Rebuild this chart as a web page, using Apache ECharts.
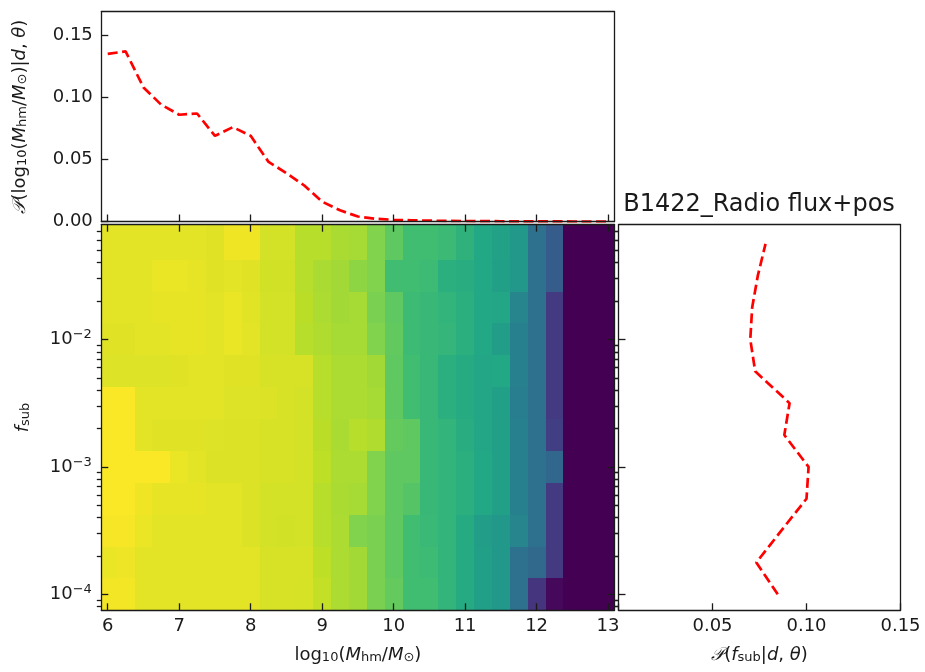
<!DOCTYPE html>
<html>
<head>
<meta charset="utf-8">
<script src="https://cdn.jsdelivr.net/npm/echarts@6/dist/echarts.min.js"></script>
<style>
  html, body { margin: 0; padding: 0; background: #ffffff; }
  #chart { width: 925px; height: 672px; }
</style>
</head>
<body>
<div id="chart"></div>
<script>
// Bin centres: half-mode mass (log10 M_hm/M_sun) and subhalo fraction (log10 f_sub)
const massCenters = [6.00, 6.25, 6.50, 6.75, 7.00, 7.25, 7.50, 7.75, 8.00, 8.25,
                     8.50, 8.75, 9.00, 9.25, 9.50, 9.75, 10.00, 10.25, 10.50, 10.75,
                     11.00, 11.25, 11.50, 11.75, 12.00, 12.25, 12.50, 12.75, 13.00];
const fsubLogCenters = [-4.00, -3.75, -3.50, -3.25, -3.00, -2.75, -2.50, -2.25,
                        -2.00, -1.75, -1.50, -1.25];

// Marginal posteriors
const massMarginal = [0.135, 0.137, 0.108, 0.094, 0.086, 0.087, 0.069, 0.076, 0.069, 0.048,
                      0.039, 0.029, 0.016, 0.009, 0.004, 0.0022, 0.0014, 0.0010, 0.0007, 0.0005,
                      0.0004, 0.0003, 0.0002, 0.0001, 0.0001, 0.0001, 0.0, 0.0, 0.0];
const fsubMarginal = [0.0847, 0.0733, 0.0866, 0.1000, 0.1011, 0.0882,
                      0.0910, 0.0727, 0.0701, 0.0711, 0.0741, 0.0782];

// Joint posterior, normalised log density; one row per f_sub bin (lowest f_sub first)
const density = [
  [0.985, 0.985, 0.960, 0.958, 0.958, 0.958, 0.958, 0.960, 0.960, 0.940, 0.940, 0.937, 0.910, 0.875, 0.860, 0.800, 0.760, 0.690, 0.690, 0.650, 0.610, 0.560, 0.530, 0.370, 0.150, 0.020, 0, 0, 0],
  [0.970, 0.975, 0.960, 0.960, 0.958, 0.958, 0.958, 0.960, 0.960, 0.940, 0.940, 0.940, 0.900, 0.875, 0.860, 0.800, 0.750, 0.690, 0.680, 0.650, 0.610, 0.560, 0.530, 0.370, 0.340, 0.170, 0, 0, 0],
  [0.990, 0.990, 0.970, 0.958, 0.958, 0.958, 0.958, 0.960, 0.948, 0.935, 0.930, 0.935, 0.890, 0.875, 0.810, 0.800, 0.750, 0.690, 0.670, 0.650, 0.610, 0.550, 0.530, 0.450, 0.370, 0.170, 0, 0, 0],
  [0.995, 0.995, 0.980, 0.965, 0.965, 0.965, 0.960, 0.960, 0.948, 0.935, 0.935, 0.935, 0.890, 0.870, 0.865, 0.810, 0.750, 0.730, 0.665, 0.650, 0.630, 0.600, 0.560, 0.430, 0.370, 0.170, 0, 0, 0],
  [0.995, 0.995, 0.995, 0.995, 0.970, 0.960, 0.948, 0.948, 0.948, 0.940, 0.940, 0.935, 0.900, 0.875, 0.875, 0.810, 0.750, 0.750, 0.665, 0.650, 0.630, 0.600, 0.560, 0.430, 0.370, 0.330, 0, 0, 0],
  [0.995, 0.995, 0.960, 0.955, 0.955, 0.955, 0.950, 0.948, 0.948, 0.940, 0.940, 0.935, 0.895, 0.870, 0.890, 0.880, 0.760, 0.750, 0.665, 0.650, 0.620, 0.590, 0.560, 0.430, 0.370, 0.180, 0, 0, 0],
  [0.995, 0.995, 0.960, 0.960, 0.960, 0.960, 0.960, 0.950, 0.950, 0.948, 0.940, 0.935, 0.890, 0.875, 0.875, 0.865, 0.750, 0.690, 0.665, 0.630, 0.610, 0.590, 0.560, 0.420, 0.370, 0.170, 0, 0, 0],
  [0.950, 0.950, 0.950, 0.950, 0.955, 0.960, 0.960, 0.955, 0.955, 0.940, 0.940, 0.940, 0.890, 0.875, 0.875, 0.860, 0.750, 0.690, 0.665, 0.630, 0.610, 0.590, 0.600, 0.430, 0.370, 0.170, 0, 0, 0],
  [0.955, 0.955, 0.958, 0.958, 0.965, 0.965, 0.958, 0.970, 0.958, 0.935, 0.935, 0.890, 0.880, 0.865, 0.865, 0.810, 0.755, 0.680, 0.665, 0.655, 0.630, 0.600, 0.550, 0.430, 0.370, 0.170, 0, 0, 0],
  [0.958, 0.960, 0.960, 0.965, 0.965, 0.965, 0.958, 0.970, 0.957, 0.935, 0.935, 0.895, 0.875, 0.860, 0.865, 0.800, 0.750, 0.680, 0.665, 0.650, 0.630, 0.600, 0.590, 0.450, 0.370, 0.170, 0, 0, 0],
  [0.960, 0.960, 0.960, 0.970, 0.970, 0.965, 0.955, 0.960, 0.955, 0.930, 0.930, 0.890, 0.870, 0.860, 0.830, 0.810, 0.690, 0.690, 0.680, 0.630, 0.620, 0.600, 0.560, 0.530, 0.370, 0.290, 0, 0, 0],
  [0.960, 0.960, 0.960, 0.960, 0.960, 0.960, 0.955, 0.980, 0.980, 0.935, 0.935, 0.890, 0.890, 0.870, 0.865, 0.810, 0.750, 0.690, 0.690, 0.675, 0.640, 0.600, 0.570, 0.530, 0.370, 0.290, 0, 0, 0]
];

// Tick positions
const massTicks = [6, 7, 8, 9, 10, 11, 12, 13];
const fsubDecades = [-4, -3, -2];
const massProbTicks = [0, 0.05, 0.10, 0.15];
const fsubProbTicks = [0, 0.05, 0.10, 0.15];
const fsubProbLabels = [0.05, 0.10, 0.15];

// Axis limits
const massRange = [5.91, 13.09];
const fsubLogRange = [-4.125, -1.10];
const massProbRange = [0, 0.169];
const fsubProbRange = [0, 0.15];

const FONT = 'DejaVu Sans';
const INK = '#1a1a1a';
const VIRIDIS = ['#440154', '#482475', '#414487', '#355f8d', '#2a788e', '#21918c',
                 '#22a884', '#44bf70', '#7ad151', '#bddf26', '#fde725'];

// Cell edges: midpoints between centres, outer cells run to the frame
function edgesFrom(centers, range) {
  const e = [range[0]];
  for (let k = 1; k < centers.length; k++) e.push((centers[k - 1] + centers[k]) / 2);
  e.push(range[1]);
  return e;
}
const massEdges = edgesFrom(massCenters, massRange);
const fsubEdges = edgesFrom(fsubLogCenters, fsubLogRange);

// Minor log ticks (2..9 x 10^n) inside the f_sub range
const fsubMinor = [];
for (let n = -5; n <= -1; n++) {
  for (let k = 2; k <= 9; k++) {
    const v = n + Math.log10(k);
    if (v > fsubLogRange[0] && v < fsubLogRange[1]) fsubMinor.push(v);
  }
}

const heatData = [];
density.forEach((row, j) => {
  row.forEach((v, i) => heatData.push([massCenters[i], fsubLogCenters[j], v, i, j]));
});

const massLine = massCenters.map((m, i) => [m, massMarginal[i]]);
const fsubLine = fsubLogCenters.map((f, j) => [fsubMarginal[j], f]);

const nameRich = {
  n: { fontFamily: FONT, fontSize: 18, color: INK, padding: [0, 0, 4, 0] },
  i: { fontFamily: FONT, fontSize: 18, fontStyle: 'italic', color: INK, padding: [0, 0, 4, 0] },
  s: { fontFamily: FONT, fontSize: 13, color: INK }
};
const powRich = {
  b: { fontFamily: FONT, fontSize: 18, color: INK },
  p: { fontFamily: FONT, fontSize: 13, color: INK, padding: [0, 0, 9, 0] }
};

function makeAxis(o) {
  const ax = {
    type: 'value',
    gridIndex: o.grid,
    position: o.pos,
    min: o.range[0],
    max: o.range[1],
    z: 10,
    axisLine: { show: !!o.line, onZero: false, lineStyle: { color: INK, width: 1.3 } },
    axisTick: o.ticks
      ? { show: true, inside: !o.outside, length: o.len || 7, customValues: o.ticks,
          lineStyle: { color: INK, width: 1.3 } }
      : { show: false },
    axisLabel: o.labels
      ? { show: true, customValues: o.labels, formatter: o.fmt, margin: o.margin,
          fontFamily: FONT, fontSize: 18, color: INK, rich: o.rich || {} }
      : { show: false },
    splitLine: { show: false }
  };
  if (o.name) {
    ax.name = o.name;
    ax.nameLocation = 'middle';
    ax.nameGap = o.gap;
    ax.nameRotate = o.rot || 0;
    ax.nameTextStyle = { fontFamily: FONT, fontSize: 18, color: INK, rich: nameRich };
  }
  return ax;
}

const xAxes = [
  // top marginal panel
  makeAxis({ grid: 0, pos: 'bottom', range: massRange, line: true, ticks: massTicks }),
  makeAxis({ grid: 0, pos: 'top', range: massRange, line: true }),
  // joint panel
  makeAxis({ grid: 1, pos: 'bottom', range: massRange, line: true, ticks: massTicks,
             labels: massTicks, fmt: v => String(Math.round(v)), margin: 7,
             name: '{n|log}{s|10}{n|(}{i|M}{s|hm}{n|/}{i|M}{s|⊙}{n|)}', gap: 36 }),
  makeAxis({ grid: 1, pos: 'top', range: massRange, line: true, ticks: massTicks }),
  // side marginal panel
  makeAxis({ grid: 2, pos: 'bottom', range: fsubProbRange, line: true, ticks: fsubProbTicks,
             labels: fsubProbLabels, fmt: v => v.toFixed(2), margin: 7,
             name: '{i|𝒫}{n|(}{i|f}{s|sub}{n||}{i|d}{n|, }{i|θ}{n|)}', gap: 36 }),
  makeAxis({ grid: 2, pos: 'top', range: fsubProbRange, line: true })
];

const yAxes = [
  // top marginal panel
  makeAxis({ grid: 0, pos: 'left', range: massProbRange, line: true, ticks: massProbTicks,
             labels: massProbTicks, fmt: v => v.toFixed(2), margin: 8.5,
             name: '{i|𝒫}{n|(log}{s|10}{n|(}{i|M}{s|hm}{n|/}{i|M}{s|⊙}{n|)|}{i|d}{n|, }{i|θ}{n|)}',
             gap: 68, rot: 90 }),
  makeAxis({ grid: 0, pos: 'right', range: massProbRange, line: true }),
  // joint panel, left: major (in) and minor (out)
  makeAxis({ grid: 1, pos: 'left', range: fsubLogRange, line: true, ticks: fsubDecades,
             labels: fsubDecades, fmt: v => '{b|10}{p|−' + Math.round(-v) + '}', rich: powRich,
             margin: 9.5, name: '{i|f}{s|sub}', gap: 65, rot: 90 }),
  makeAxis({ grid: 1, pos: 'left', range: fsubLogRange, ticks: fsubMinor, outside: true, len: 4.5 }),
  // joint panel, right
  makeAxis({ grid: 1, pos: 'right', range: fsubLogRange, line: true, ticks: fsubDecades }),
  makeAxis({ grid: 1, pos: 'right', range: fsubLogRange, ticks: fsubMinor, outside: true, len: 4.5 }),
  // side marginal panel
  makeAxis({ grid: 2, pos: 'left', range: fsubLogRange, line: true, ticks: fsubDecades }),
  makeAxis({ grid: 2, pos: 'left', range: fsubLogRange, ticks: fsubMinor, outside: true, len: 4.5 }),
  makeAxis({ grid: 2, pos: 'right', range: fsubLogRange, line: true })
];

const dashed = { color: '#ff0000', width: 2.7, type: [10, 4.5] };

const option = {
  animation: false,
  backgroundColor: '#ffffff',
  grid: [
    { left: 101.3, top: 11.7, width: 513.2, height: 209.8, outerBoundsMode: 'none', containLabel: false },
    { left: 101.3, top: 224.7, width: 513.2, height: 385.6, outerBoundsMode: 'none', containLabel: false },
    { left: 618.5, top: 224.7, width: 282, height: 385.6, outerBoundsMode: 'none', containLabel: false }
  ],
  xAxis: xAxes,
  yAxis: yAxes,
  visualMap: {
    type: 'continuous', show: false, seriesIndex: 0, dimension: 2,
    min: 0, max: 1, inRange: { color: VIRIDIS }
  },
  graphic: [{
    type: 'text', x: 759, y: 205, z: 20,
    style: { text: 'B1422_Radio flux+pos', fontFamily: FONT, fontSize: 24, fill: INK,
             align: 'center', verticalAlign: 'middle' }
  }],
  series: [
    {
      type: 'custom',
      xAxisIndex: 2,
      yAxisIndex: 2,
      clip: true,
      z: 1,
      encode: { x: 0, y: 1 },
      data: heatData,
      renderItem: function (params, api) {
        const i = api.value(3), j = api.value(4);
        const p0 = api.coord([massEdges[i], fsubEdges[j + 1]]);
        const p1 = api.coord([massEdges[i + 1], fsubEdges[j]]);
        // snap to whole pixels so neighbouring cells meet without seams
        const x0 = Math.round(p0[0]), y0 = Math.round(p0[1]);
        const x1 = Math.round(p1[0]), y1 = Math.round(p1[1]);
        return {
          type: 'rect',
          shape: { x: x0, y: y0, width: x1 - x0, height: y1 - y0 },
          style: { fill: api.visual('color') }
        };
      }
    },
    {
      type: 'line', xAxisIndex: 0, yAxisIndex: 0, data: massLine,
      showSymbol: false, symbol: 'none', lineStyle: dashed, z: 5
    },
    {
      type: 'line', xAxisIndex: 4, yAxisIndex: 6, data: fsubLine,
      showSymbol: false, symbol: 'none', lineStyle: dashed, z: 5
    }
  ]
};

const chart = echarts.init(document.getElementById('chart'), null, { renderer: 'canvas' });
chart.setOption(option);
</script>
</body>
</html>
